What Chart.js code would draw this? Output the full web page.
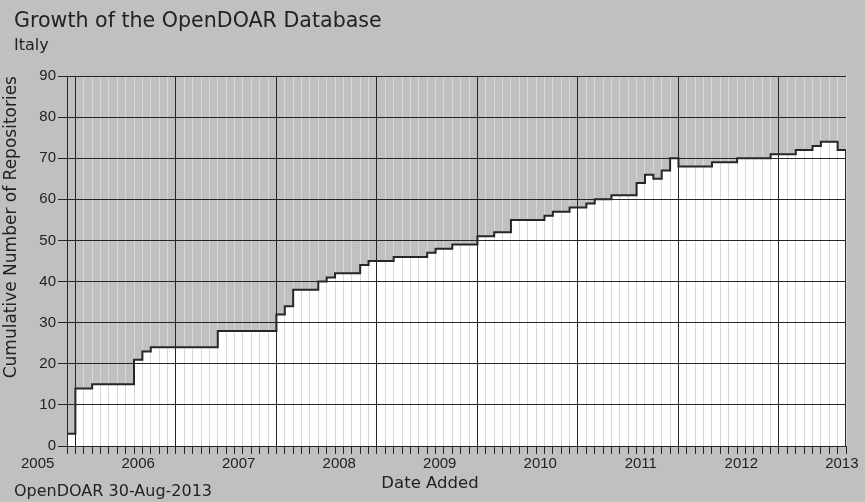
<!DOCTYPE html>
<html>
<head>
<meta charset="utf-8">
<script src="https://cdn.jsdelivr.net/npm/chart.js@4/dist/chart.umd.min.js"></script>
<style>
  html, body { margin: 0; padding: 0; background: #c0c0c0; }
  #wrap { width: 865px; height: 502px; position: relative; }
</style>
</head>
<body>
<div id="wrap"><canvas id="chart"></canvas></div>
<script>
// ---------------- data ----------------
const startYear = 2005;   // first monthly bar: May 2005
const startMonth = 5;
// cumulative number of repositories, one value per month
const repoCounts = [
  3, 14, 14, 15, 15, 15, 15, 15, 21, 23,
  24, 24, 24, 24, 24, 24, 24, 24, 28, 28,
  28, 28, 28, 28, 28, 32, 34, 38, 38, 38,
  40, 41, 42, 42, 42, 44, 45, 45, 45, 46,
  46, 46, 46, 47, 48, 48, 49, 49, 49, 51,
  51, 52, 52, 55, 55, 55, 55, 56, 57, 57,
  58, 58, 59, 60, 60, 61, 61, 61, 64, 66,
  65, 67, 70, 68, 68, 68, 68, 69, 69, 69,
  70, 70, 70, 70, 71, 71, 71, 72, 72, 73,
  74, 74, 72
];
const yearLabels = ['2005', '2006', '2007', '2008', '2009', '2010', '2011', '2012', '2013'];
const chartTitle = 'Growth of the OpenDOAR Database';
const chartSubtitle = 'Italy';
const xTitle = 'Date Added';
const yTitle = 'Cumulative Number of Repositories';
const footerText = 'OpenDOAR 30-Aug-2013';

// ---------------- derived ----------------
const nMonths = repoCounts.length;
const monthTicks = [];
for (let i = 0; i <= nMonths; i++) monthTicks.push(i);
// year labels sit in the middle of each January (month units from the first bar)
const yearLabelPos = yearLabels.map(y => (Number(y) - startYear) * 12 + (1 - startMonth) + 0.5);
// dark vertical lines every 12 bars, starting at the second bar
const majorTicks = [];
for (let i = 1; i < nMonths; i += 12) majorTicks.push(i);

const stepPoints = [{ x: 0, y: 0 }];
repoCounts.forEach((v, i) => stepPoints.push({ x: i, y: v }));
stepPoints.push({ x: nMonths, y: repoCounts[nMonths - 1] }, { x: nMonths, y: 0 });

const DARK = '#262626';
const TEXT = '#222222';
const tickFont = { family: 'Liberation Sans', size: 15, lineHeight: 1.2 };
const MONTH_PX = 779 / 93;

// extra free text boxes built from Chart.js's own Title element
const TitleBox = Chart.Title._element;
const extraTextOptions = [
  { display: true, text: xTitle, position: 'bottom', align: 'center', fullSize: true, weight: 10,
    color: TEXT, font: { family: 'DejaVu Sans', size: 16.5, lineHeight: 1.2, style: 'normal', weight: 'normal' },
    padding: { top: 0, bottom: 0 } },
  { display: true, text: footerText, position: 'bottom', align: 'start', fullSize: true, weight: 20,
    color: TEXT, font: { family: 'DejaVu Sans', size: 16, lineHeight: 1.2, style: 'normal', weight: 'normal' },
    padding: { top: -11.9, bottom: 0.9 } }
];
const extraTexts = {
  id: 'extraTexts',
  beforeInit(chart) {
    extraTextOptions.forEach(o => {
      const box = new TitleBox({ ctx: chart.ctx, options: o, chart });
      Chart.layouts.configure(chart, box, o);
      Chart.layouts.addBox(chart, box);
    });
  },
  afterLayout(chart) {
    // the first year label shares the row of the other year labels:
    // give its (zero-height) box a label area so it is not clipped
    const s = chart.scales.xYearFirst;
    if (s) s.bottom = s.top + 20;
  }
};

const hiddenAxisBase = {
  type: 'linear', position: 'bottom', min: 0, max: nMonths,
  border: { display: false }
};

new Chart(document.getElementById('chart'), {
  type: 'line',
  data: {
    datasets: [{
      data: stepPoints,
      stepped: true,
      borderColor: '#262626',
      borderWidth: 2,
      backgroundColor: '#ffffff',
      fill: 'origin',
      pointRadius: 0,
      pointHoverRadius: 0,
      xAxisID: 'x',
      yAxisID: 'y'
    }]
  },
  options: {
    responsive: true,
    maintainAspectRatio: false,
    animation: false,
    events: [],
    layout: { padding: { left: 14, right: 19, top: 0, bottom: 0 } },
    plugins: {
      legend: { display: false },
      tooltip: { enabled: false },
      filler: { drawTime: 'beforeDraw' },
      title: {
        display: true, text: chartTitle, align: 'start', position: 'top', color: TEXT,
        font: { family: 'DejaVu Sans', size: 20.6, weight: 'normal', lineHeight: 1.2 },
        padding: { top: 9.5, bottom: 0 }
      },
      subtitle: {
        display: true, text: chartSubtitle, align: 'start', position: 'top', color: TEXT,
        font: { family: 'DejaVu Sans', size: 16, weight: 'normal', lineHeight: 1.2 },
        padding: { top: 2, bottom: 20.6 }
      }
    },
    scales: {
      x: Object.assign({}, hiddenAxisBase, {
        weight: 0,
        afterBuildTicks: s => { s.ticks = monthTicks.map(v => ({ value: v })); },
        grid: { color: '#d7d7d7', lineWidth: 1, drawTicks: true, tickLength: 8, tickColor: DARK, tickWidth: 1, z: -3 },
        ticks: { display: false }
      }),
      xMajor: Object.assign({}, hiddenAxisBase, {
        weight: 0,
        afterBuildTicks: s => { s.ticks = majorTicks.map(v => ({ value: v })); },
        grid: { color: DARK, lineWidth: 1, drawTicks: false, z: -2 },
        ticks: { display: false }
      }),
      xYearFirst: Object.assign({}, hiddenAxisBase, {
        weight: 1,
        afterBuildTicks: s => { s.ticks = [{ value: 0 }]; },
        grid: { display: false, drawTicks: false },
        ticks: {
          autoSkip: false, maxRotation: 0, padding: 1, color: TEXT, font: tickFont,
          labelOffset: yearLabelPos[0] * MONTH_PX,
          callback: () => yearLabels[0]
        },
        afterFit: s => { s.height = 0; s.paddingLeft = 0; s.paddingRight = 0; }
      }),
      xYears: Object.assign({}, hiddenAxisBase, {
        weight: 2,
        afterBuildTicks: s => { s.ticks = yearLabelPos.slice(1).map(v => ({ value: v })); },
        grid: { display: false, drawTicks: false },
        ticks: {
          autoSkip: false, maxRotation: 0, padding: 1, color: TEXT, font: tickFont,
          callback: (v, i) => yearLabels[i + 1]
        },
        afterFit: s => { s.paddingLeft = 0; s.paddingRight = 0; }
      }),
      y: {
        type: 'linear', position: 'left', min: 0, max: 90,
        ticks: { stepSize: 10, color: TEXT, font: tickFont, padding: 2 },
        grid: { color: DARK, lineWidth: 1, tickLength: 9, tickColor: DARK, z: -1 },
        border: { display: true, color: DARK, width: 1 },
        title: {
          display: true, text: yTitle, align: 'end', color: TEXT,
          font: { family: 'DejaVu Sans', size: 17, lineHeight: 1.2 },
          padding: { top: -12.2, bottom: 0 }
        },
        afterFit: s => { s.width = 53; }
      }
    }
  },
  plugins: [extraTexts]
});
</script>
</body>
</html>
